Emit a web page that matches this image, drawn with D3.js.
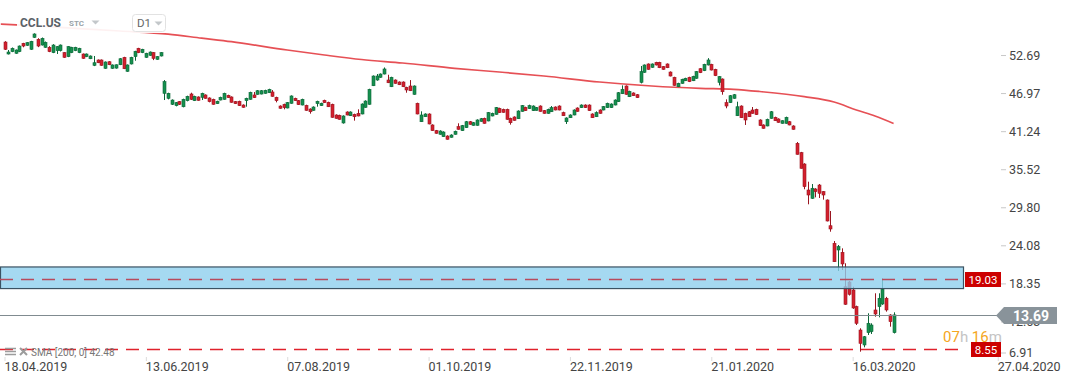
<!DOCTYPE html>
<html>
<head>
<meta charset="utf-8">
<script src="https://cdn.jsdelivr.net/npm/d3@7"></script>
<style>
  body { margin: 0; background: #fff; }
  svg { display: block; font-family: Roboto, "Noto Sans", sans-serif; }
</style>
</head>
<body>
<svg id="chart" width="1069" height="384"></svg>
<script>
// CCL.US daily candles, one row per session: [open, high, low, close]
const candles = [
  [54.72,54.85,53.52,53.63],[52.92,53.52,52.85,53.22],[53.27,53.9,53.2,53.78],[53.03,53.6,52.95,53.52],
  [53.27,54.2,53.2,54.12],[54.53,54.6,53.93,54.12],[54.23,54.7,54.15,54.62],[53.63,54.9,53.55,54.83],
  [55.43,56.03,55.35,55.93],[55.13,55.3,53.95,54.12],[54.27,55.4,54.2,55.28],[53.93,54.8,53.85,54.68],
  [53.93,54.1,53.2,53.27],[53.12,54.4,53.05,54.27],[53.42,54.1,52.92,54.02],[53.42,54.35,53.3,54.27],
  [53.12,53.2,52.35,52.42],[52.52,54.1,52.45,54.02],[53.12,54.0,53.05,53.93],[53.42,54.0,53.35,53.93],
  [53.12,53.85,53.05,53.78],[52.92,53.0,52.2,52.27],[52.52,53.0,52.45,52.92],[52.21,52.7,52.15,52.62],
  [51.22,52.62,51.1,51.61],[52.02,52.1,51.55,51.61],[52.02,52.1,51.15,51.22],[50.77,51.8,50.7,51.72],
  [51.76,51.85,51.25,51.31],[50.77,51.35,50.7,51.27],[50.8,51.35,50.72,51.3],[51.31,52.3,51.25,52.21],
  [52.42,52.5,50.65,50.71],[50.32,51.35,50.25,51.27],[51.42,52.5,51.35,52.42],[52.52,53.4,51.91,53.33],
  [53.78,53.85,53.05,53.12],[53.12,53.7,53.05,53.63],[52.42,53.1,52.35,53.03],[52.72,53.3,52.65,53.22],
  [53.12,53.2,52.0,52.27],[52.12,52.6,52.05,52.52],[52.62,53.2,52.55,53.12],
  [47.01,49.0,46.0,48.76],[46.26,47.1,46.1,47.01],
  [45.36,46.1,45.25,46.0],[45.15,45.7,45.05,45.6],[45.75,45.85,45.25,45.36],[44.99,46.2,44.9,46.11],
  [45.9,46.65,45.8,46.56],[46.91,47.1,46.0,46.11],[45.9,46.65,45.85,46.56],[46.46,46.55,45.9,45.96],
  [46.41,47.1,46.0,47.01],[46.76,46.85,46.2,46.26],[46.31,46.4,45.65,45.75],[46.11,46.2,45.3,45.36],
  [45.45,45.9,45.4,45.81],[46.0,46.5,45.95,46.41],[46.11,47.1,46.05,47.01],[46.71,46.8,46.3,46.35],
  [46.46,46.55,45.6,45.66],[45.75,45.85,45.4,45.45],[45.81,45.9,45.1,45.15],[45.25,45.35,44.85,44.91],
  [45.9,46.35,45.0,46.26],[46.11,47.25,46.05,47.16],[46.76,47.2,46.3,46.35],[46.86,47.5,46.8,47.4],
  [46.9,47.5,46.85,47.4],[47.01,47.55,46.95,47.46],[47.1,47.7,47.05,47.61],[47.21,47.5,46.5,46.56],
  [46.41,46.5,45.65,45.9],[45.1,45.2,44.7,44.76],[45.36,45.45,44.6,44.85],[44.8,45.7,44.75,45.6],
  [45.51,46.7,45.45,46.61],[46.26,46.35,45.85,45.9],[45.9,46.0,45.25,45.3],[45.25,46.2,45.2,46.11],
  [45.2,45.3,44.4,44.45],[44.65,44.75,43.95,44.24],[44.45,45.05,44.4,44.95],[45.45,45.9,45.0,45.81],
  [45.15,45.6,45.1,45.51],[45.96,46.05,45.55,45.6],[45.66,45.75,44.95,44.99],[45.36,45.45,43.35,43.4],
  [43.75,43.85,43.2,43.25],[43.7,43.8,43.05,43.1],[42.55,43.7,42.45,43.6],[44.2,44.3,43.7,43.75],
  [43.64,44.3,43.6,44.2],[43.85,43.95,42.9,43.49],[44.0,44.6,43.55,43.6],[43.9,45.5,43.85,45.4],
  [44.9,45.95,44.85,45.85],[45.36,47.7,45.3,47.61],[48.15,49.7,48.1,49.61],[49.01,49.91,48.9,49.61],
  [49.42,50.0,49.35,49.91],[49.91,50.9,49.85,50.67],[49.01,49.8,48.55,48.6],[48.0,49.5,47.95,49.42],
  [49.01,49.1,48.45,48.51],[48.71,48.8,48.25,48.3],[48.71,48.8,47.95,48.0],[47.91,48.0,47.1,47.51],
  [48.11,49.0,47.35,47.4],[46.86,48.2,46.8,48.11],[45.51,45.6,43.85,43.9],[42.74,44.3,42.7,43.75],
  [43.49,44.0,43.45,43.9],[43.9,44.0,42.35,42.4],[42.25,42.35,41.35,41.39],[41.39,41.5,40.95,41.0],
  [40.85,41.45,40.8,41.34],[40.49,41.3,40.45,41.19],[40.59,40.7,40.05,40.1],[40.4,40.85,40.35,40.74],
  [40.85,41.4,40.8,41.3],[41.99,42.5,41.55,41.6],[41.39,42.25,41.35,42.14],[41.84,42.85,41.8,42.74],
  [42.74,42.85,42.3,42.35],[42.2,42.7,42.15,42.59],[42.2,43.1,42.15,43.0],[42.8,43.3,42.75,43.19],
  [43.25,43.35,42.45,42.5],[42.85,44.2,42.8,44.1],[43.6,44.1,43.55,44.0],[43.85,44.95,43.8,44.85],
  [44.75,44.85,44.05,44.1],[44.6,44.7,44.1,44.15],[44.6,44.7,43.05,43.1],[43.25,43.35,42.3,42.59],
  [43.45,43.55,42.9,42.95],[43.19,44.45,43.15,44.35],[44.3,45.25,44.25,45.15],[44.9,45.0,44.35,44.4],
  [44.7,45.3,44.65,45.15],[44.4,45.2,44.35,45.1],[44.45,44.95,44.4,44.85],[45.1,45.2,44.25,44.3],
  [44.4,44.5,43.95,44.0],[44.0,44.7,43.95,44.6],[44.24,45.1,44.2,44.85],[44.95,45.05,44.45,44.5],
  [45.1,45.2,44.45,44.5],[44.1,44.25,43.6,43.64],[42.74,43.4,42.4,43.3],[43.34,43.85,43.3,43.75],
  [43.75,44.6,43.7,44.5],[44.8,44.9,44.25,44.3],[44.85,45.35,44.8,45.25],[45.25,45.35,44.8,44.85],
  [45.25,45.35,44.35,44.4],[43.9,44.0,43.3,43.34],[43.49,44.3,43.45,44.1],[44.5,44.6,43.95,44.0],
  [44.5,45.1,44.45,45.0],[44.85,45.6,44.8,45.51],[44.85,45.5,44.8,45.4],[45.25,46.1,45.2,46.0],
  [45.75,47.2,45.7,47.1],[46.95,48.2,46.9,47.61],[48.11,48.2,46.8,46.86],[46.5,47.4,46.45,47.31],
  [47.06,47.15,46.6,46.65],[46.8,46.9,46.3,46.35],[48.66,51.12,48.5,50.26],[50.17,51.35,50.1,51.27],
  [51.42,51.5,50.55,50.62],[50.92,51.5,50.85,51.42],[51.67,51.75,51.2,51.27],[51.67,51.75,50.8,50.86],
  [51.02,51.1,50.55,50.62],[51.42,51.5,50.8,50.86],[50.21,50.3,49.55,49.61],[49.42,49.5,48.15,48.21],
  [48.0,48.6,47.95,48.51],[48.51,49.2,48.45,49.12],[48.9,49.35,48.85,49.27],[49.42,49.5,48.7,48.76],
  [48.9,49.65,48.85,49.56],[49.27,50.35,49.2,50.26],[50.71,50.8,50.05,50.11],[50.41,51.45,50.35,51.37],
  [51.27,52.3,51.2,52.02],[51.37,51.45,50.45,50.51],[50.62,50.7,49.6,49.66],[48.66,49.6,48.2,49.51],
  [49.16,49.25,46.8,47.25],[45.6,46.1,44.76,45.1],[45.6,46.75,45.55,46.65],[46.26,46.9,46.2,46.8],
  [43.64,45.75,43.6,44.99],[45.1,45.2,43.3,43.34],[44.0,44.1,42.25,43.0],[44.24,44.35,43.45,43.49],
  [44.5,44.95,43.95,44.0],[44.6,44.7,43.75,43.8],[43.0,43.1,42.1,42.14],[42.25,42.35,41.7,41.75],
  [42.1,43.2,42.05,43.1],[43.25,44.35,43.2,44.24],[43.4,43.5,42.85,42.89],[43.15,43.25,42.6,42.65],
  [42.5,42.95,42.45,42.89],[42.5,43.5,42.45,43.4],[42.74,42.85,42.2,42.25],[42.1,42.2,41.55,41.6],
  [39.49,39.69,37.8,37.84],[38.08,38.2,35.7,35.73],[36.38,36.5,32.58,32.97],[32.47,33.72,30.32,31.72],
  [31.22,33.37,31.15,32.73],[32.62,32.75,31.37,32.22],[33.22,33.37,31.27,31.98],[32.22,32.3,31.02,31.72],
  [30.97,31.05,27.75,27.81],[27.1,29.31,26.2,26.61],[24.46,24.8,21.65,21.69],[23.45,24.2,20.29,23.95],
  [23.1,23.7,20.44,21.35],[17.93,21.45,15.2,15.29],[18.64,18.8,16.6,16.79],[17.44,17.93,14.6,14.73],
  [14.93,15.08,12.17,12.43],[11.42,11.68,8.16,9.42],[9.17,10.52,8.82,10.41],[11.02,13.93,10.67,12.43],
  [11.17,12.43,10.82,12.17],[14.43,16.94,13.42,13.83],[14.93,16.94,13.33,16.19],[15.33,19.19,15.2,17.54],
  [16.19,16.4,14.18,14.43],[13.68,13.8,11.92,12.67],[11.02,14.08,10.9,13.69]
];

// SMA(200): [bar index, value]
const sma200 = [
  [-1,57.43],[10,57.1],[20,56.75],[31,56.38],[44,55.9],[53,55.3],[61,54.77],[76,53.52],
  [86,52.77],[96,52.09],[107,51.57],[121,50.77],[133,50.21],[145,49.61],[160,48.71],[174,48.11],
  [187,47.76],[196,47.61],[203,47.28],[215,46.5],[223,45.7],[229,44.5],[234,43.6],[239,42.48]
];

const priceTicks = [52.69, 46.97, 41.24, 35.52, 29.80, 24.08, 18.35, 12.63, 6.91];
const dateTickIdx = [0, 38, 76, 114, 152, 190, 228, 267];
const dateLabels = ['18.04.2019','13.06.2019','07.08.2019','01.10.2019','22.11.2019','21.01.2020','16.03.2020','27.04.2020'];

const zoneRange = [17.65, 20.9];
const levels = [19.03, 8.55];
const lastPrice = 13.69;
const smaLast = 42.48;

const svg = d3.select('#chart');
const plotRight = 963;
const green = '#16904f', greenDark = '#0c6638';
const red = '#d3202e', redDark = '#9a1520';

let x = d3.scaleLinear().domain([0, 258]).range([4.5, 4.5 + 258 * 3.72]);
let y = d3.scaleLinear().domain([6.91, 61.04]).range([360, 0]);

// sma line
let smaLine = d3.line()
  .x(d => x(d[0]))
  .y(d => y(d[1]))
  .curve(d3.curveMonotoneX);
svg.append('path')
  .datum(sma200)
  .attr('d', smaLine)
  .attr('fill', 'none')
  .attr('stroke', '#e02a30')
  .attr('stroke-opacity', 0.82)
  .attr('stroke-width', 1.7);

// candles
let candle = svg.append('g').selectAll('g')
  .data(candles)
  .enter()
  .append('g');
candle.append('line')
  .attr('x1', (d, i) => Math.round(x(i)) + 0.5)
  .attr('x2', (d, i) => Math.round(x(i)) + 0.5)
  .attr('y1', d => y(d[1]))
  .attr('y2', d => y(d[2]))
  .attr('stroke', d => d[3] >= d[0] ? greenDark : redDark)
  .attr('stroke-width', 1);
candle.append('rect')
  .attr('x', (d, i) => Math.round(x(i)) - 1)
  .attr('width', 3)
  .attr('y', d => y(Math.max(d[0], d[3])))
  .attr('height', d => Math.max(1, Math.abs(y(d[0]) - y(d[3]))))
  .attr('fill', d => d[3] >= d[0] ? green : red)
  .attr('stroke', d => d[3] >= d[0] ? greenDark : redDark)
  .attr('stroke-width', 0.6);

// support / resistance zone, drawn over the candles
svg.append('rect')
  .attr('x', 0.5)
  .attr('y', y(zoneRange[1]))
  .attr('width', plotRight)
  .attr('height', y(zoneRange[0]) - y(zoneRange[1]))
  .attr('fill', '#8fd0ee')
  .attr('fill-opacity', 0.8)
  .attr('stroke', '#3b5262')
  .attr('stroke-width', 1.2);

// horizontal levels
svg.selectAll('.level')
  .data(levels)
  .enter()
  .append('line')
  .attr('class', 'level')
  .attr('x1', 0)
  .attr('x2', plotRight)
  .attr('y1', d => Math.round(y(d)) + 0.5)
  .attr('y2', d => Math.round(y(d)) + 0.5)
  .style('stroke', (d, i) => i == 0 ? '#b84a5c' : '#e0222c')
  .style('stroke-width', '1.3px')
  .style('stroke-dasharray', '13,8');

// last price line
svg.append('line')
  .attr('x1', 0).attr('x2', 997)
  .attr('y1', Math.round(y(lastPrice)) + 0.5)
  .attr('y2', Math.round(y(lastPrice)) + 0.5)
  .attr('stroke', '#808b90')
  .attr('stroke-width', 1);

// price axis
let yAxis = d3.axisRight(y)
  .tickValues(priceTicks)
  .tickFormat(d3.format('.2f'))
  .tickSize(5)
  .tickPadding(3);
let ya = svg.append('g')
  .attr('transform', 'translate(1001,0)')
  .call(yAxis);
ya.select('.domain').remove();
ya.selectAll('line').attr('stroke', '#c8c8c8');
ya.selectAll('text')
  .attr('fill', '#444')
  .style('font-size', '12.5px')
  .attr('font-family', 'Roboto');
ya.selectAll('.tick')
  .attr('transform', d => 'translate(0,' + Math.min(y(d), 353) + ')');

// date axis
let xAxis = d3.axisBottom(x)
  .tickValues(dateTickIdx)
  .tickFormat((d, i) => dateLabels[i])
  .tickSize(4)
  .tickPadding(1);
let xa = svg.append('g')
  .attr('transform', 'translate(0,357)')
  .call(xAxis);
xa.select('.domain').remove();
xa.selectAll('line').attr('stroke', '#dcdcdc');
xa.selectAll('text')
  .attr('fill', '#444')
  .attr('text-anchor', 'start')
  .attr('x', -0.5)
  .style('font-size', '12.5px')
  .attr('font-family', 'Roboto');

// countdown
let cd = svg.append('text')
  .attr('x', 943).attr('y', 342)
  .style('font-size', '15px');
cd.append('tspan').attr('fill', '#f5a623').text('07');
cd.append('tspan').attr('fill', '#c4c4c4').text('h ');
cd.append('tspan').attr('fill', '#f5a623').text('16');
cd.append('tspan').attr('fill', '#c4c4c4').text('m');

// level labels
let lvlLabels = svg.selectAll('.lvl')
  .data(levels)
  .enter()
  .append('g')
  .attr('class', 'lvl')
  .attr('transform', d => 'translate(0,' + Math.round(y(d)) + ')');
lvlLabels.append('rect')
  .attr('x', (d, i) => i == 0 ? 965 : 971)
  .attr('y', -7)
  .attr('width', (d, i) => i == 0 ? 36 : 30)
  .attr('height', 15)
  .attr('fill', '#cc0000');
lvlLabels.append('text')
  .attr('x', (d, i) => i == 0 ? 983 : 986)
  .attr('y', 4.5)
  .attr('text-anchor', 'middle')
  .attr('fill', '#fff')
  .style('font-size', '11.5px')
  .text(d => d.toFixed(2));

// last price tag
let ty = Math.round(y(lastPrice)) + 0.5;
svg.append('path')
  .attr('d', d3.line()([[996, ty], [1004, ty - 8.5], [1057, ty - 8.5], [1057, ty + 8.5], [1004, ty + 8.5]]) + 'Z')
  .attr('fill', '#89939a');
svg.append('text')
  .attr('x', 1031).attr('y', ty + 5)
  .attr('text-anchor', 'middle')
  .attr('fill', '#fff')
  .style('font-size', '14px')
  .style('font-weight', 'bold')
  .text(lastPrice.toFixed(2));

// header
svg.append('rect')
  .attr('x', 17).attr('y', 12)
  .attr('width', 150).attr('height', 21)
  .attr('fill', '#fff').attr('fill-opacity', 0.92);
svg.append('text')
  .attr('x', 20).attr('y', 27)
  .attr('fill', '#5b6268')
  .style('font-size', '12px')
  .style('font-weight', 'bold')
  .text('CCL.US');
svg.append('text')
  .attr('x', 69).attr('y', 26)
  .attr('fill', '#9aa3a8')
  .style('font-size', '8px')
  .style('font-weight', 'bold')
  .text('STC');
svg.append('path')
  .attr('d', 'M91.5,20.5 L99.5,20.5 L95.5,24.5 Z')
  .attr('fill', '#c3c7ca');
svg.append('rect')
  .attr('x', 132.5).attr('y', 14.5)
  .attr('width', 33).attr('height', 17)
  .attr('rx', 3)
  .attr('fill', '#fff')
  .attr('stroke', '#e2e2e2');
svg.append('text')
  .attr('x', 137).attr('y', 27)
  .attr('fill', '#666')
  .style('font-size', '11.5px')
  .text('D1');
svg.append('path')
  .attr('d', 'M154.5,21.5 L162.5,21.5 L158.5,25.5 Z')
  .attr('fill', '#c3c7ca');

// sma legend
let leg = svg.append('g').attr('transform', 'translate(5,348)');
leg.append('path')
  .attr('d', 'M0,0.5 H11 M0,3.5 H11 M0,6.5 H11')
  .attr('stroke', '#9c9c9c')
  .attr('stroke-width', 1.5);
leg.append('path')
  .attr('d', 'M15,0 L22,7 M22,0 L15,7')
  .attr('stroke', '#9c9c9c')
  .attr('stroke-width', 2);
leg.append('text')
  .attr('x', 26).attr('y', 8)
  .attr('fill', '#777')
  .style('font-size', '10px')
  .text('SMA  [200,  0]  ' + smaLast.toFixed(2));
</script>
</body>
</html>
